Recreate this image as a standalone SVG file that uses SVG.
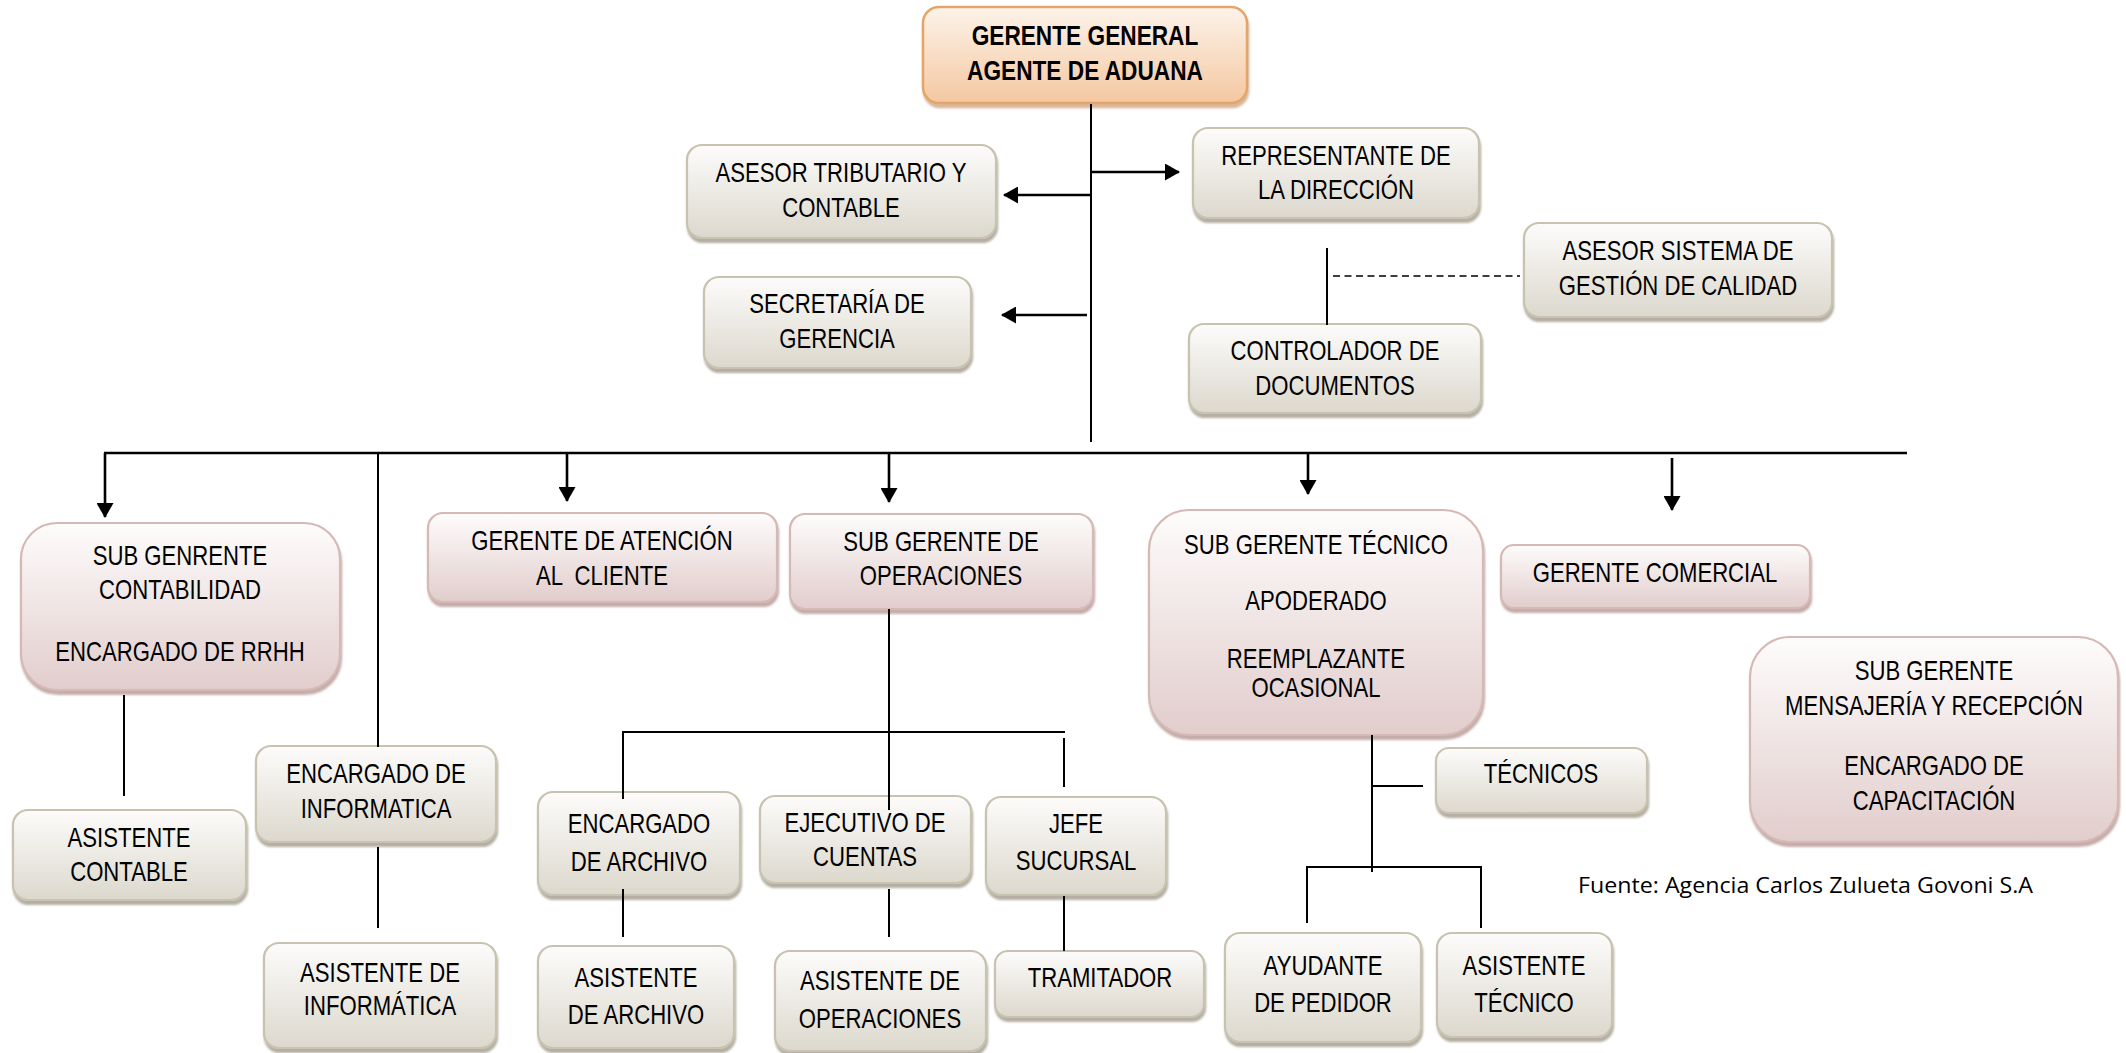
<svg xmlns="http://www.w3.org/2000/svg" width="2126" height="1053" viewBox="0 0 2126 1053">
<defs>
<linearGradient id="gGray" x1="0" y1="0" x2="0" y2="1"><stop offset="0" stop-color="#fdfcfb"/><stop offset="1" stop-color="#dcd8cd"/></linearGradient>
<linearGradient id="gPink" x1="0" y1="0" x2="0" y2="1"><stop offset="0" stop-color="#fefcfc"/><stop offset="1" stop-color="#e1cdcc"/></linearGradient>
<linearGradient id="gOrange" x1="0" y1="0" x2="0" y2="1"><stop offset="0" stop-color="#fdf3ea"/><stop offset="1" stop-color="#f4c8a0"/></linearGradient>
<filter id="shGray" x="-5%" y="-10%" width="110%" height="130%"><feDropShadow dx="1" dy="4" stdDeviation="1.2" flood-color="#9b9483" flood-opacity="0.75"/></filter>
<filter id="shPink" x="-5%" y="-10%" width="110%" height="130%"><feDropShadow dx="1" dy="4" stdDeviation="1.2" flood-color="#b0918e" flood-opacity="0.75"/></filter>
<filter id="shOrange" x="-5%" y="-10%" width="110%" height="130%"><feDropShadow dx="1" dy="4" stdDeviation="1.2" flood-color="#c9a07c" flood-opacity="0.75"/></filter>
<marker id="arr" viewBox="0 0 15 17" refX="14" refY="8.5" markerWidth="15" markerHeight="17" markerUnits="userSpaceOnUse" orient="auto"><path d="M0,0 L15,8.5 L0,17 z" fill="#000"/></marker>
<style>
.gray{fill:url(#gGray);stroke:#c8c2b0;stroke-width:2.2;filter:url(#shGray)}
.pink{fill:url(#gPink);stroke:#d6b9b5;stroke-width:2.2;filter:url(#shPink)}
.orange{fill:url(#gOrange);stroke:#e5a569;stroke-width:2.5;filter:url(#shOrange)}
#nodes text{font-family:"Liberation Sans",Arial,sans-serif;font-size:27px;fill:#000;text-anchor:middle;transform-box:fill-box;transform-origin:center;transform:scaleX(0.82)}
#nodes text.b{font-weight:bold;transform:scaleX(0.84)}
.src{font-family:"Open Sans","Liberation Sans",sans-serif;font-size:21.5px;fill:#000;text-anchor:start}
.ln{stroke:#000;stroke-width:2;fill:none}
.ar{stroke:#000;stroke-width:2.6;fill:none;marker-end:url(#arr)}
.dash{stroke:#000;stroke-width:1.5;fill:none;stroke-dasharray:7 4.5}
</style>
</defs>
<rect width="2126" height="1053" fill="#fff"/>

<g id="nodes">
<g id="gerente-general"><rect class="orange" x="923" y="7" width="324" height="96" rx="16"/><text class="b" x="1085" y="45">GERENTE GENERAL</text><text class="b" x="1085" y="80">AGENTE DE ADUANA</text></g>
<g id="asesor-tributario"><rect class="gray" x="687" y="145" width="309" height="93" rx="15"/><text x="841" y="182">ASESOR TRIBUTARIO Y</text><text x="841" y="217">CONTABLE</text></g>
<g id="representante"><rect class="gray" x="1193" y="128" width="286" height="90" rx="15"/><text x="1336" y="165">REPRESENTANTE DE</text><text x="1336" y="199">LA DIRECCIÓN</text></g>
<g id="secretaria"><rect class="gray" x="704" y="277" width="267" height="91" rx="15"/><text x="837" y="313">SECRETARÍA DE</text><text x="837" y="348">GERENCIA</text></g>
<g id="asesor-sgc"><rect class="gray" x="1524" y="223" width="308" height="94" rx="15"/><text x="1678" y="260">ASESOR SISTEMA DE</text><text x="1678" y="295">GESTIÓN DE CALIDAD</text></g>
<g id="controlador"><rect class="gray" x="1189" y="324" width="292" height="89" rx="15"/><text x="1335" y="360">CONTROLADOR DE</text><text x="1335" y="395">DOCUMENTOS</text></g>

<g id="sub-contabilidad"><rect class="pink" x="21" y="523" width="319" height="167" rx="36"/><text x="180" y="565">SUB GENRENTE</text><text x="180" y="599">CONTABILIDAD</text><text x="180" y="661">ENCARGADO DE RRHH</text></g>
<g id="asistente-contable"><rect class="gray" x="13" y="810" width="233" height="90" rx="15"/><text x="129" y="847">ASISTENTE</text><text x="129" y="881">CONTABLE</text></g>
<g id="enc-informatica"><rect class="gray" x="256" y="746" width="240" height="96" rx="15"/><text x="376" y="783">ENCARGADO DE</text><text x="376" y="818">INFORMATICA</text></g>
<g id="asist-informatica"><rect class="gray" x="264" y="943" width="232" height="105" rx="15"/><text x="380" y="982">ASISTENTE DE</text><text x="380" y="1015">INFORMÁTICA</text></g>

<g id="gerente-atencion"><rect class="pink" x="428" y="513" width="349" height="89" rx="15"/><text x="602" y="550">GERENTE DE ATENCIÓN</text><text x="602" y="585" xml:space="preserve">AL  CLIENTE</text></g>
<g id="sub-operaciones"><rect class="pink" x="790" y="514" width="303" height="95" rx="15"/><text x="941" y="551">SUB GERENTE DE</text><text x="941" y="585">OPERACIONES</text></g>
<g id="enc-archivo"><rect class="gray" x="538" y="792" width="202" height="103" rx="15"/><text x="639" y="833">ENCARGADO</text><text x="639" y="871">DE ARCHIVO</text></g>
<g id="asist-archivo"><rect class="gray" x="538" y="946" width="196" height="102" rx="15"/><text x="636" y="987">ASISTENTE</text><text x="636" y="1024">DE ARCHIVO</text></g>
<g id="ejecutivo"><rect class="gray" x="760" y="796" width="211" height="87" rx="15"/><text x="865" y="832">EJECUTIVO DE</text><text x="865" y="866">CUENTAS</text></g>
<g id="asist-operaciones"><rect class="gray" x="775" y="951" width="211" height="100" rx="15"/><text x="880" y="990">ASISTENTE DE</text><text x="880" y="1028">OPERACIONES</text></g>
<g id="jefe-sucursal"><rect class="gray" x="986" y="797" width="180" height="98" rx="15"/><text x="1076" y="833">JEFE</text><text x="1076" y="870">SUCURSAL</text></g>
<g id="tramitador"><rect class="gray" x="995" y="951" width="209" height="66" rx="13"/><text x="1100" y="987">TRAMITADOR</text></g>

<g id="sub-tecnico"><rect class="pink" x="1149" y="510" width="334" height="225" rx="40"/><text x="1316" y="554">SUB GERENTE TÉCNICO</text><text x="1316" y="610">APODERADO</text><text x="1316" y="668">REEMPLAZANTE</text><text x="1316" y="697">OCASIONAL</text></g>
<g id="tecnicos"><rect class="gray" x="1436" y="748" width="211" height="65" rx="13"/><text x="1541" y="783">TÉCNICOS</text></g>
<g id="ayudante-pedidor"><rect class="gray" x="1225" y="933" width="196" height="109" rx="15"/><text x="1323" y="975">AYUDANTE</text><text x="1323" y="1012">DE PEDIDOR</text></g>
<g id="asist-tecnico"><rect class="gray" x="1437" y="933" width="175" height="104" rx="15"/><text x="1524" y="975">ASISTENTE</text><text x="1524" y="1012">TÉCNICO</text></g>

<g id="gerente-comercial"><rect class="pink" x="1501" y="545" width="309" height="63" rx="13"/><text x="1655" y="582">GERENTE COMERCIAL</text></g>
<g id="sub-mensajeria"><rect class="pink" x="1750" y="637" width="368" height="205" rx="40"/><text x="1934" y="680">SUB GERENTE</text><text x="1934" y="715">MENSAJERÍA Y RECEPCIÓN</text><text x="1934" y="775">ENCARGADO DE</text><text x="1934" y="810">CAPACITACIÓN</text></g>
</g>

<g id="connectors">
<path class="ln" d="M1091 104 V442"/>
<path class="ar" d="M1091 172 H1179"/>
<path class="ar" d="M1091 195 H1004"/>
<path class="ar" d="M1087 315 H1002"/>
<path class="ln" d="M1327 248 V325"/>
<path class="dash" d="M1333 276 H1520"/>
<path class="ln" style="stroke-width:2.5" d="M104 453 H1907"/>
<path class="ar" d="M105 453 V517"/>
<path class="ar" d="M567 453 V501"/>
<path class="ar" d="M889 453 V502"/>
<path class="ar" d="M1308 453 V494"/>
<path class="ar" d="M1672 458 V510"/>
<path class="ln" d="M378 453 V747"/>
<path class="ln" d="M124 695 V796"/>
<path class="ln" d="M378 847 V928"/>
<path class="ln" d="M889 609 V810"/>
<path class="ln" d="M623 799 V732 H1065"/>
<path class="ln" d="M1064 738 V787"/>
<path class="ln" d="M623 889 V937"/>
<path class="ln" d="M889 889 V937"/>
<path class="ln" d="M1064 896 V951"/>
<path class="ln" d="M1372 735 V872"/>
<path class="ln" d="M1372 786 H1423"/>
<path class="ln" d="M1307 923 V867 H1481 V928"/>
</g>

<text class="src" x="1578" y="893" textLength="455" lengthAdjust="spacingAndGlyphs">Fuente: Agencia Carlos Zulueta Govoni S.A</text>
</svg>
